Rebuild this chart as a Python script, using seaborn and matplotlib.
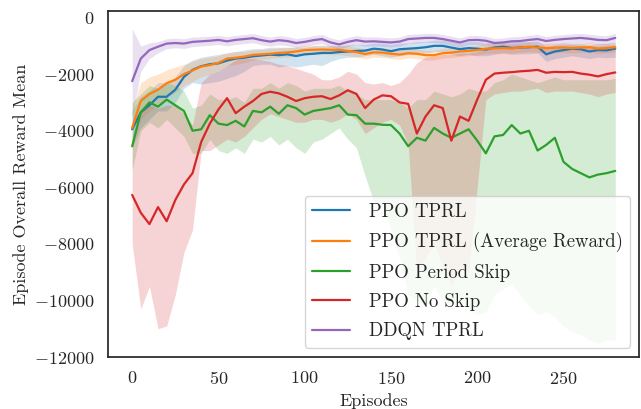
import matplotlib.pyplot as plt
import numpy as np
import pandas as pd
import seaborn as sns

# episode grid (every 5 episodes)
episodes = list(range(0, 285, 5))

methods = ["PPO TPRL", "PPO TPRL (Average Reward)", "PPO Period Skip",
           "PPO No Skip", "DDQN TPRL"]

# ---- PPO TPRL ----
ppo_tprl = [-3950, -3350, -3100, -2800, -2800, -2550, -2100, -1850, -1720, -1650,
            -1620, -1520, -1450, -1420, -1370, -1340, -1310, -1330, -1300, -1360,
            -1300, -1280, -1250, -1250, -1220, -1200, -1180, -1170, -1100, -1130,
            -1190, -1120, -1100, -1080, -1050, -1000, -1000, -1060, -1120, -1080,
            -1100, -1130, -1060, -1030, -1080, -1060, -1050, -1030, -1300, -1200,
            -1150, -1100, -1120, -1200, -1150, -1160, -1100]
ppo_tprl_lo = [-4600, -3900, -3600, -3300, -3300, -3000, -2500, -2300, -2350, -2300,
               -2250, -2150, -2050, -1900, -1700, -1650, -1650, -1750, -1700, -1750,
               -1700, -1650, -1700, -1550, -1450, -1400, -1400, -1350, -1300, -1350,
               -1400, -1350, -1300, -1300, -1250, -1200, -1200, -1300, -1350, -1300,
               -1350, -1350, -1300, -1250, -1300, -1280, -1280, -1250, -1550, -1450,
               -1400, -1350, -1400, -1450, -1400, -1420, -1400]
ppo_tprl_hi = [-3300, -2800, -2600, -2300, -2300, -2100, -1700, -1500, -1400, -1350,
               -1300, -1250, -1200, -1150, -1100, -1100, -1050, -1050, -1050, -1050,
               -1050, -1000, -1000, -1000, -1000, -950, -950, -950, -900, -900,
               -950, -900, -900, -850, -850, -800, -800, -850, -900, -850,
               -850, -900, -850, -850, -850, -850, -850, -820, -1050, -950,
               -900, -900, -900, -950, -920, -920, -880]

# ---- PPO TPRL (Average Reward) ----
ppo_avg = [-3900, -2950, -2700, -2550, -2320, -2200, -2000, -1870, -1730, -1680,
           -1600, -1450, -1420, -1380, -1320, -1300, -1280, -1250, -1230, -1200,
           -1150, -1140, -1130, -1140, -1140, -1180, -1220, -1290, -1230, -1240,
           -1280, -1310, -1260, -1280, -1330, -1330, -1260, -1240, -1200, -1180,
           -1150, -1100, -1090, -1080, -1090, -1060, -1030, -1060, -1080, -1070,
           -1060, -1080, -1060, -1050, -1100, -1080, -1050]
ppo_avg_lo = [-4500, -3600, -3300, -3100, -2800, -2650, -2400, -2250, -2100, -2000,
              -1900, -1700, -1650, -1600, -1500, -1480, -1450, -1420, -1400, -1370,
              -1320, -1310, -1300, -1310, -1310, -1350, -1390, -1460, -1400, -1410,
              -1450, -1480, -1430, -1450, -1500, -1500, -1430, -1410, -1370, -1350,
              -1320, -1270, -1260, -1250, -1260, -1230, -1200, -1230, -1250, -1240,
              -1230, -1250, -1230, -1220, -1270, -1250, -1220]
ppo_avg_hi = [-3200, -2300, -2100, -2000, -1850, -1750, -1650, -1550, -1450, -1400,
              -1350, -1250, -1200, -1200, -1150, -1130, -1100, -1080, -1070, -1040,
              -990, -980, -970, -980, -980, -1010, -1050, -1120, -1060, -1070,
              -1110, -1140, -1090, -1110, -1160, -1160, -1090, -1070, -1030, -1010,
              -980, -930, -920, -910, -920, -890, -860, -890, -910, -900,
              -890, -910, -890, -880, -930, -910, -880]

# ---- PPO Period Skip ----
ppo_skip = [-4550, -3350, -3000, -3150, -2900, -3100, -3300, -4000, -3950, -3450,
            -3750, -3800, -3650, -3850, -3300, -3350, -3150, -3400, -3100, -3200,
            -3430, -3300, -3250, -3200, -3100, -3430, -3450, -3750, -3750, -3790,
            -3800, -4100, -4550, -4250, -4350, -3900, -4100, -4250, -4100, -3950,
            -4350, -4800, -4200, -4150, -3800, -4100, -4000, -4700, -4500, -4250,
            -5100, -5350, -5500, -5650, -5550, -5500, -5420]
ppo_skip_lo = [-5400, -4000, -3700, -3900, -3600, -3900, -4200, -4800, -4800, -4300,
               -4700, -4800, -4600, -4800, -4300, -4400, -4200, -4500, -4300, -4600,
               -4800, -4400, -4300, -4100, -3900, -4300, -4600, -5600, -6500, -6600,
               -7500, -8500, -9800, -10000, -10200, -9500, -10000, -10200, -10000, -10300,
               -10500, -10400, -9800, -9600, -9400, -9800, -10200, -10500, -10400, -10600,
               -10900, -11100, -11200, -11400, -11500, -11400, -11400]
ppo_skip_hi = [-3000, -2700, -2400, -2500, -2300, -2400, -2600, -3200, -3100, -2700,
               -2900, -2900, -2800, -3000, -2500, -2500, -2300, -2500, -2300, -2400,
               -2600, -2500, -2500, -2500, -2400, -2600, -2700, -2900, -2900, -2900,
               -2900, -3000, -3200, -2900, -2900, -2600, -2700, -2800, -2700, -2500,
               -2600, -2600, -2300, -2200, -2000, -2100, -2200, -2300, -2200, -2100,
               -2200, -2200, -2200, -2200, -2200, -2200, -2150]

# ---- PPO No Skip ----
ppo_noskip = [-6270, -6900, -7300, -6700, -7200, -6450, -5900, -5500, -4400, -3750,
              -3250, -2850, -3380, -3150, -2950, -2700, -2620, -2680, -2800, -2950,
              -2850, -2800, -2780, -2880, -2750, -2570, -2700, -3200, -2900, -2750,
              -2780, -3000, -3050, -4100, -3500, -3100, -3200, -4350, -3500, -3650,
              -2900, -2200, -1980, -1950, -1930, -1900, -1880, -1850, -1950, -1920,
              -1930, -1920, -1980, -2020, -2080, -2000, -1940]
ppo_noskip_lo = [-8000, -10300, -9500, -11000, -10900, -9800, -8300, -7500, -4700, -4700,
                 -4500, -4300, -4400, -4200, -3900, -3600, -3400, -3500, -3600, -3700,
                 -3700, -3600, -3600, -3700, -3600, -3400, -3600, -4100, -3900, -3700,
                 -3600, -3800, -4500, -9000, -8500, -8000, -8800, -9500, -8800, -9000,
                 -6000, -2900, -2700, -2650, -2600, -2600, -2550, -2500, -2650, -2600,
                 -2600, -2600, -2650, -2700, -2800, -2700, -2650]
ppo_noskip_hi = [-4500, -3300, -3100, -3200, -3100, -3100, -3400, -3800, -2300, -2000,
                 -1900, -1700, -1500, -1450, -1450, -1500, -1550, -1650, -1700, -1800,
                 -1900, -2000, -2200, -2200, -2100, -1900, -2000, -2300, -2350, -2300,
                 -2400, -2300, -2000, -1600, -1400, -1350, -1300, -1300, -1250, -1250,
                 -1200, -1050, -1000, -980, -980, -970, -960, -950, -980, -970,
                 -960, -960, -980, -990, -1000, -980, -960]

# ---- DDQN TPRL ----
ddqn = [-2250, -1450, -1150, -1030, -920, -900, -920, -860, -840, -820,
        -790, -840, -790, -760, -730, -800, -850, -800, -830, -900,
        -860, -800, -760, -880, -950, -860, -800, -850, -840, -860,
        -880, -850, -760, -740, -720, -720, -760, -820, -880, -800,
        -790, -820, -900, -880, -840, -830, -790, -760, -830, -790,
        -760, -740, -720, -750, -790, -800, -720]
ddqn_lo = [-3500, -1900, -1450, -1250, -1100, -1070, -1090, -1030, -1000, -980,
           -950, -1000, -950, -920, -890, -960, -1010, -960, -990, -1060,
           -1020, -960, -920, -1040, -1110, -1020, -960, -1010, -1000, -1020,
           -1040, -1010, -920, -900, -880, -880, -920, -980, -1040, -960,
           -950, -980, -1060, -1040, -1000, -990, -950, -920, -990, -950,
           -920, -900, -880, -910, -950, -960, -880]
ddqn_hi = [-400, -1000, -900, -850, -750, -730, -750, -690, -680, -660,
           -630, -680, -630, -600, -570, -640, -690, -640, -670, -740,
           -700, -640, -600, -720, -790, -700, -640, -690, -680, -700,
           -720, -690, -600, -580, -560, -560, -600, -660, -720, -640,
           -630, -660, -740, -720, -680, -670, -630, -600, -670, -630,
           -600, -580, -560, -590, -630, -640, -560]

series = {
    "PPO TPRL": (ppo_tprl, ppo_tprl_lo, ppo_tprl_hi),
    "PPO TPRL (Average Reward)": (ppo_avg, ppo_avg_lo, ppo_avg_hi),
    "PPO Period Skip": (ppo_skip, ppo_skip_lo, ppo_skip_hi),
    "PPO No Skip": (ppo_noskip, ppo_noskip_lo, ppo_noskip_hi),
    "DDQN TPRL": (ddqn, ddqn_lo, ddqn_hi),
}

sns.set_theme(style="white")
plt.rcParams["font.family"] = "cmr10"
plt.rcParams["mathtext.fontset"] = "cm"
plt.rcParams["axes.formatter.use_mathtext"] = True
plt.rcParams["axes.unicode_minus"] = True

colors = sns.color_palette("tab10", len(methods))

df = pd.concat([
    pd.DataFrame({"Episode": episodes, "Reward": series[m][0], "Method": m})
    for m in methods
], ignore_index=True)

fig = plt.figure(figsize=(6.41, 4.09), dpi=100)
ax = fig.add_axes([0.1685, 0.127, 0.829, 0.846])

for m, c in zip(methods, colors):
    _, lo, hi = series[m]
    ax.fill_between(episodes, lo, hi, color=c, alpha=0.2, linewidth=0)

sns.lineplot(data=df, x="Episode", y="Reward", hue="Method", hue_order=methods,
             palette=colors, linewidth=1.6, errorbar=None, ax=ax)

ax.set_ylim(-12000, 230)
ax.set_xlabel("Episodes", fontsize=13)
ax.set_ylabel("Episode Overall Reward Mean", fontsize=13)
ax.tick_params(labelsize=13)

leg = ax.get_legend()
handles = leg.legend_handles
ax.legend(handles, methods, loc="lower right", fontsize=13.5,
          labelspacing=0.6, handletextpad=1.0)

plt.savefig("out.png", dpi=100)
plt.close()
